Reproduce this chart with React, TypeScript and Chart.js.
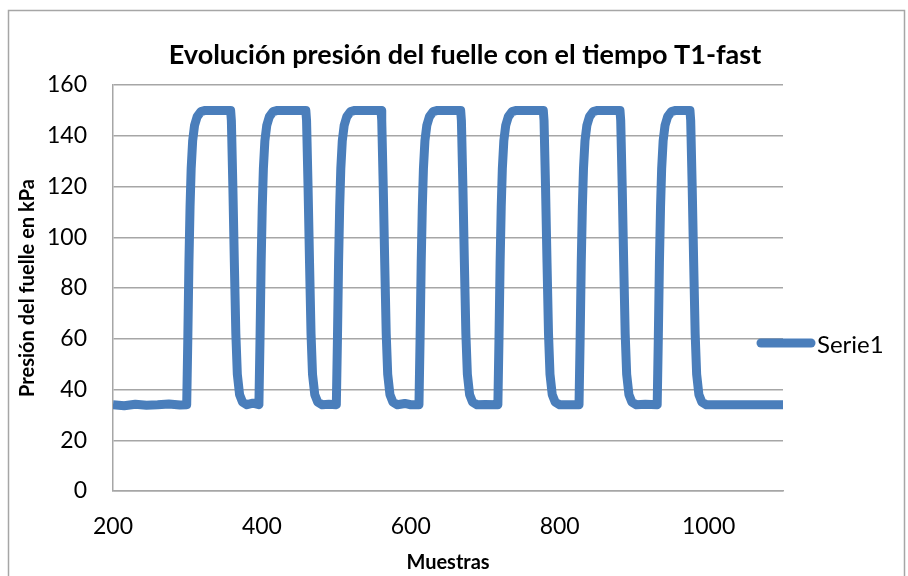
import React, { useEffect, useRef } from "react";
import { Chart, registerables } from "chart.js";

Chart.register(...registerables);

const TITLE = "Evolución presión del fuelle con el tiempo T1-fast";
const X_TITLE = "Muestras";
const Y_TITLE = "Presión del fuelle en kPa";
const SERIES_NAME = "Serie1";
const LINE_COLOR = "#4A7EBB";

const xMin = 200;
const xMax = 1100;
const xStep = 200;
const yMin = 0;
const yMax = 160;
const yStep = 20;

// Sample index (Muestras)
const samples = [
  200, 215, 230, 245, 260, 275, 290,
  299, 300.5, 302, 303.5, 305, 307, 309.5, 313, 318, 324, 358, 359, 361, 363, 365, 367, 370, 374, 380, 388,
  396, 397.5, 399, 400.5, 402, 404, 406.5, 410, 415, 421, 459, 460, 462, 464, 466, 468, 471, 475, 481, 490,
  500, 501.5, 503, 504.5, 506, 508, 510.5, 514, 519, 525, 560, 561, 563, 565, 567, 569, 572, 576, 582, 592, 600,
  611, 612.5, 614, 615.5, 617, 619, 621.5, 625, 630, 636, 667, 668, 670, 672, 674, 676, 679, 683, 689, 700,
  717, 718.5, 720, 721.5, 723, 725, 727.5, 731, 736, 742, 778, 779, 781, 783, 785, 787, 790, 794, 800, 812,
  826, 827.5, 829, 830.5, 832, 834, 836.5, 840, 845, 851, 881, 882, 884, 886, 888, 890, 893, 897, 903, 915,
  931, 932.5, 934, 935.5, 937, 939, 941.5, 945, 950, 956, 975, 976, 978, 980, 982, 984, 987, 991, 997,
  1020, 1050, 1080, 1100,
];

// Bellows pressure in kPa
const pressure = [
  34, 33.6, 34.2, 33.8, 34, 34.3, 33.9,
  34, 60, 90, 112, 127, 138, 144, 147.5, 149.5, 150, 150, 146, 120, 90, 62, 46, 38, 35, 34, 34.6,
  34, 60, 90, 112, 127, 138, 144, 147.5, 149.5, 150, 150, 146, 120, 90, 62, 46, 38, 35, 34, 34.2,
  34, 60, 90, 112, 127, 138, 144, 147.5, 149.5, 150, 150, 146, 120, 90, 62, 46, 38, 35, 34, 34.5, 34,
  34, 60, 90, 112, 127, 138, 144, 147.5, 149.5, 150, 150, 146, 120, 90, 62, 46, 38, 35, 34, 34.1,
  34, 60, 90, 112, 127, 138, 144, 147.5, 149.5, 150, 150, 146, 120, 90, 62, 46, 38, 35, 34, 34,
  34, 60, 90, 112, 127, 138, 144, 147.5, 149.5, 150, 150, 146, 120, 90, 62, 46, 38, 35, 34, 34.2,
  34, 60, 90, 112, 127, 138, 144, 147.5, 149.5, 150, 150, 146, 120, 90, 62, 46, 38, 35, 34,
  34, 34, 34, 34,
];

const FONT = "Lato, 'Open Sans', sans-serif";

const framePlugin = {
  id: "frameAndTexts",
  beforeDraw(chart: any) {
    const ctx = chart.ctx;
    ctx.save();
    ctx.fillStyle = "#ffffff";
    ctx.fillRect(0, 0, chart.width, chart.height);
    ctx.strokeStyle = "#a6a6a6";
    ctx.lineWidth = 1.5;
    ctx.strokeRect(8.5, 10.5, 896, 620);
    ctx.restore();
  },
  afterDraw(chart: any) {
    const ctx = chart.ctx;
    ctx.save();
    // Title
    ctx.fillStyle = "#000000";
    ctx.font = `bold 27px ${FONT}`;
    ctx.textAlign = "center";
    ctx.textBaseline = "middle";
    ctx.fillText(TITLE, 465, 55);
    // Legend
    const ds = chart.data.datasets[0];
    ctx.strokeStyle = ds.borderColor;
    ctx.lineWidth = 9;
    ctx.lineCap = "round";
    ctx.beginPath();
    ctx.moveTo(761, 343);
    ctx.lineTo(811, 343);
    ctx.stroke();
    ctx.font = `24px ${FONT}`;
    ctx.textAlign = "left";
    ctx.fillStyle = "#000000";
    ctx.fillText(ds.label, 817, 345);
    ctx.restore();
  },
};

export default function App() {
  const ref = useRef<HTMLCanvasElement | null>(null);

  useEffect(() => {
    if (!ref.current) return;
    const points = samples.map((s, i) => ({ x: s, y: pressure[i] }));
    const chart = new Chart(ref.current, {
      type: "line",
      data: {
        datasets: [
          {
            label: SERIES_NAME,
            data: points,
            borderColor: LINE_COLOR,
            backgroundColor: LINE_COLOR,
            borderWidth: 9,
            pointRadius: 0,
            tension: 0,
            borderJoinStyle: "round",
            borderCapStyle: "butt",
            fill: false,
          },
        ],
      },
      options: {
        responsive: false,
        animation: false,
        layout: { padding: { left: 0, top: 85, right: 125, bottom: 0 } },
        plugins: {
          legend: { display: false },
          title: { display: false },
          tooltip: { enabled: false },
        },
        scales: {
          x: {
            type: "linear",
            min: xMin,
            max: xMax,
            afterFit: (s: any) => {
              s.height = 85;
            },
            ticks: {
              stepSize: xStep,
              includeBounds: false,
              maxRotation: 0,
              autoSkip: false,
              padding: 22,
              color: "#000000",
              font: { family: FONT, size: 23 },
              callback: (v: any) => String(v),
            },
            grid: { display: false, drawTicks: false },
            border: { display: true, color: "#a6a6a6", width: 1.5 },
            title: {
              display: true,
              text: X_TITLE,
              color: "#000000",
              font: { family: FONT, size: 20, weight: "bold" },
              padding: { top: 0, bottom: 1 },
            },
          },
          y: {
            min: yMin,
            max: yMax,
            afterFit: (s: any) => {
              s.width = 113;
            },
            ticks: {
              stepSize: yStep,
              padding: 26,
              color: "#000000",
              font: { family: FONT, size: 23 },
            },
            grid: { color: "#a6a6a6", lineWidth: 1.5, drawTicks: false },
            border: { display: true, color: "#a6a6a6", width: 1.5 },
            title: {
              display: true,
              text: Y_TITLE,
              color: "#000000",
              font: { family: FONT, size: 20, weight: "bold" },
              padding: { top: 16, bottom: 0 },
            },
          },
        },
      },
      plugins: [framePlugin],
    });
    return () => chart.destroy();
  }, []);

  return (
    <div style={{ position: "fixed", left: 0, top: 0, width: 908, height: 576, background: "#fff" }}>
      <canvas ref={ref} width={908} height={576} />
    </div>
  );
}
